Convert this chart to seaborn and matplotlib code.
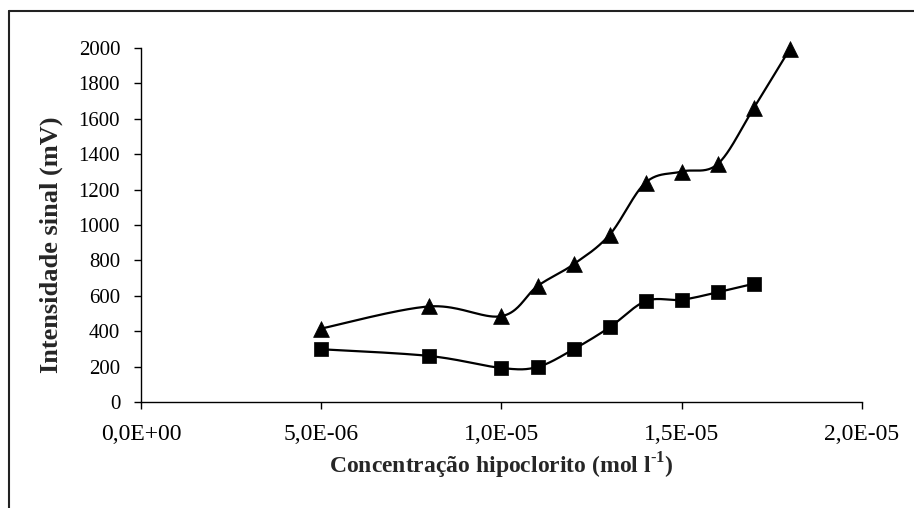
import numpy as np
import pandas as pd
import matplotlib
matplotlib.use("Agg")
import matplotlib.pyplot as plt
from matplotlib.lines import Line2D
from matplotlib.ticker import FuncFormatter
import seaborn as sns

# Hypochlorite concentration (mol/l) and signal intensity (mV)
conc_tri = [5e-6, 8e-6, 1.0e-5, 1.1e-5, 1.2e-5, 1.3e-5, 1.4e-5, 1.5e-5, 1.6e-5, 1.7e-5, 1.8e-5]
signal_tri = [415, 540, 485, 655, 778, 945, 1240, 1302, 1345, 1662, 1995]

conc_sq = [5e-6, 8e-6, 1.0e-5, 1.1e-5, 1.2e-5, 1.3e-5, 1.4e-5, 1.5e-5, 1.6e-5, 1.7e-5]
signal_sq = [298, 260, 192, 198, 298, 422, 570, 578, 620, 668]

x_ticks = [0.0, 5e-6, 1.0e-5, 1.5e-5, 2.0e-5]
y_ticks = list(range(0, 2001, 200))

XMAX, YMAX = 2.0e-5, 2000
W_PX, H_PX = 721, 354  # plot area size in pixels, used to smooth in screen space


def smooth(xs, ys, n=40):
    """Cardinal (Catmull-Rom style) Bezier smoothing computed in screen space."""
    px = np.asarray(xs) / XMAX * W_PX
    py = np.asarray(ys) / YMAX * H_PX
    pts = np.column_stack([px, py])
    out = []
    m = len(pts)
    for i in range(m - 1):
        p0 = pts[i - 1] if i > 0 else pts[i]
        p1 = pts[i]
        p2 = pts[i + 1]
        p3 = pts[i + 2] if i + 2 < m else pts[i + 1]
        c1 = p1 + (p2 - p0) / 6.0
        c2 = p2 - (p3 - p1) / 6.0
        t = np.linspace(0, 1, n)[:, None]
        seg = ((1 - t) ** 3) * p1 + 3 * ((1 - t) ** 2) * t * c1 + 3 * (1 - t) * t ** 2 * c2 + t ** 3 * p2
        if i > 0:
            seg = seg[1:]
        out.append(seg)
    arr = np.vstack(out)
    return arr[:, 0] / W_PX * XMAX, arr[:, 1] / H_PX * YMAX


sns.set_theme(style="ticks")
plt.rcParams["font.family"] = ["Liberation Serif", "DejaVu Serif"]
plt.rcParams["mathtext.fontset"] = "custom"
plt.rcParams["mathtext.rm"] = "Liberation Serif:bold"
plt.rcParams["mathtext.bf"] = "Liberation Serif:bold"

fig = plt.figure(figsize=(9.14, 5.08), dpi=100)
ax = fig.add_axes([141 / 914, 1 - 402 / 508, 721 / 914, 354 / 508])

for cx, cy, mk, ms in [(conc_tri, signal_tri, "^", 130), (conc_sq, signal_sq, "s", 90)]:
    sx, sy = smooth(cx, cy)
    curve = pd.DataFrame({"x": sx, "y": sy})
    sns.lineplot(data=curve, x="x", y="y", sort=False, estimator=None,
                 color="black", linewidth=1.6, ax=ax)
    pts = pd.DataFrame({"x": cx, "y": cy})
    sns.scatterplot(data=pts, x="x", y="y", marker=mk, s=ms, color="black",
                    edgecolor="black", linewidth=0.5, ax=ax, zorder=3, clip_on=False)

ax.set_xlim(0, XMAX)
ax.set_ylim(0, YMAX)
ax.set_xticks(x_ticks)
ax.set_yticks(y_ticks)
ax.xaxis.set_major_formatter(FuncFormatter(lambda v, p: f"{v:.1E}".replace(".", ",")))
ax.tick_params(axis="both", direction="out", length=5, width=1, color="black",
               labelcolor="black")
ax.tick_params(axis="y", pad=10, labelsize=15)
ax.tick_params(axis="x", pad=11, labelsize=17)
for s in ["top", "right"]:
    ax.spines[s].set_visible(False)
for s in ["left", "bottom"]:
    ax.spines[s].set_color("black")
    ax.spines[s].set_linewidth(1)

ax.set_xlabel(r"Concentração hipoclorito (mol l$^{\text{-1}}$)", fontsize=17, fontweight="bold")
ax.set_ylabel("Intensidade sinal (mV)", fontsize=19, fontweight="bold")
ax.xaxis.set_label_coords(0.5, (402 - 451) / 354)
ax.yaxis.set_label_coords((63 - 141) / 721, (402 - 245) / 354)

# outer chart frame (left and top edges)
fig.add_artist(Line2D([9 / 914, 9 / 914], [0, 1 - 11 / 508], transform=fig.transFigure,
                      color="#222222", linewidth=1.5))
fig.add_artist(Line2D([9 / 914, 1], [1 - 11 / 508, 1 - 11 / 508], transform=fig.transFigure,
                      color="#222222", linewidth=1.5))

fig.savefig("out.png", dpi=100, facecolor="white")
